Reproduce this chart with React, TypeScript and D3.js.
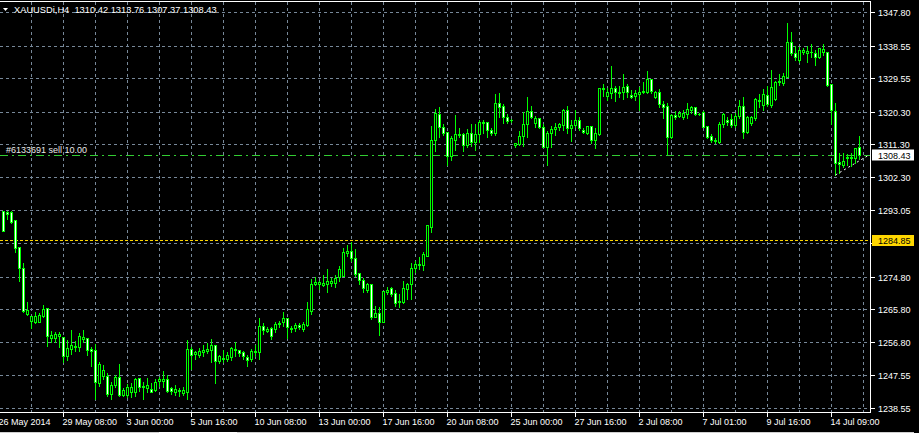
import React from "react";
import * as d3 from "d3";

const symbolText = "XAUUSDi,H4";
const lastQuote = ["1310.42", "1313.76", "1307.37", "1308.43"];
const orderLabel = "#6133691 sell 10.00";
const orderPrice = 1308.43;
const alertPrice = 1284.85;
const bidPrice = 1308.43;

const priceTicks = [1347.8, 1338.55, 1329.55, 1320.3, 1311.3, 1302.3, 1293.05, 1284.05, 1274.8, 1265.8, 1256.8, 1247.55, 1238.55];

const timeLabels = [
  "26 May 2014", "29 May 08:00", "3 Jun 00:00", "5 Jun 16:00", "10 Jun 08:00", "13 Jun 00:00",
  "17 Jun 16:00", "20 Jun 08:00", "25 Jun 00:00", "27 Jun 16:00", "2 Jul 08:00", "7 Jul 01:00",
  "9 Jul 16:00", "14 Jul 09:00",
];

const opens = [
  1292.8, 1292.5, 1292.5, 1290.3, 1283.1, 1277.3, 1264.4, 1262.5, 1262.2, 1262.2,
  1263.9, 1266.1, 1257.8, 1257.8, 1258.4, 1258.1, 1252.9, 1254.8, 1255.3, 1255.3,
  1257.5, 1257.8, 1254.8, 1254.5, 1245.4, 1247.3, 1247.3, 1242.4, 1244.9, 1247.1,
  1242.1, 1242.1, 1243.0, 1243.0, 1246.8, 1244.3, 1244.0, 1243.8, 1243.5, 1246.0,
  1246.0, 1246.5, 1244.0, 1243.0, 1243.5, 1242.7, 1243.0, 1254.8, 1253.4, 1253.1,
  1254.0, 1254.2, 1254.5, 1255.9, 1251.5, 1252.3, 1252.0, 1252.6, 1254.5, 1254.5,
  1254.0, 1252.6, 1252.0, 1254.0, 1254.0, 1261.1, 1259.7, 1260.6, 1260.3, 1261.7,
  1262.2, 1263.3, 1260.6, 1260.6, 1261.4, 1260.3, 1261.4, 1265.2, 1272.7, 1272.7,
  1272.4, 1272.7, 1272.9, 1272.9, 1274.6, 1275.1, 1281.2, 1281.8, 1279.8, 1275.7,
  1274.0, 1271.0, 1272.7, 1263.6, 1264.7, 1262.2, 1270.5, 1271.6, 1270.2, 1267.7,
  1267.7, 1271.3, 1272.7, 1277.1, 1277.9, 1277.9, 1280.6, 1288.6, 1312.6, 1319.7,
  1316.2, 1314.8, 1308.2, 1312.6, 1314.2, 1314.2, 1311.2, 1314.5, 1312.0, 1314.2,
  1317.3, 1317.5, 1315.3, 1314.5, 1322.8, 1321.9, 1318.9, 1318.1, 1311.2, 1311.5,
  1313.7, 1317.0, 1320.6, 1317.3, 1318.6, 1316.2, 1310.6, 1314.5, 1315.6, 1316.2,
  1316.7, 1320.8, 1315.9, 1316.7, 1318.1, 1315.3, 1314.5, 1316.4, 1312.6, 1314.2,
  1326.6, 1324.7, 1325.5, 1326.9, 1325.8, 1325.8, 1327.4, 1325.0, 1324.7, 1325.2,
  1325.8, 1325.8, 1329.4, 1324.4, 1325.8, 1322.5, 1321.9, 1313.4, 1319.5, 1319.2,
  1318.9, 1319.7, 1320.8, 1321.7, 1319.7, 1320.3, 1316.4, 1313.7, 1312.6, 1312.0,
  1317.0, 1318.1, 1318.3, 1316.7, 1319.2, 1321.9, 1314.8, 1317.3, 1318.6, 1323.6,
  1322.2, 1325.0, 1322.2, 1323.9, 1328.5, 1328.3, 1329.9, 1339.5, 1336.5, 1334.6,
  1336.8, 1336.5, 1336.8, 1336.5, 1335.4, 1336.8, 1336.8, 1328.0, 1320.6, 1306.5,
  1305.7, 1307.6, 1307.6, 1307.6, 1310.42,
];

const highs = [
  1293.3, 1293.3, 1293.3, 1290.3, 1283.1, 1278.7, 1268.0, 1264.1, 1265.2, 1265.0,
  1267.2, 1266.1, 1260.0, 1259.7, 1259.7, 1258.1, 1257.5, 1260.3, 1257.3, 1259.5,
  1260.3, 1257.8, 1255.6, 1256.4, 1251.5, 1250.7, 1248.4, 1246.0, 1247.9, 1250.9,
  1244.3, 1245.4, 1245.7, 1247.1, 1247.1, 1246.0, 1247.1, 1245.7, 1246.8, 1247.4,
  1249.0, 1247.9, 1244.6, 1245.1, 1244.3, 1244.6, 1257.5, 1255.6, 1254.5, 1255.3,
  1256.1, 1256.7, 1257.8, 1255.9, 1253.4, 1254.8, 1254.2, 1255.6, 1257.0, 1254.8,
  1254.5, 1253.4, 1255.1, 1256.1, 1263.6, 1262.2, 1261.1, 1261.1, 1262.5, 1262.8,
  1265.2, 1263.6, 1261.4, 1262.2, 1262.2, 1262.5, 1268.0, 1274.3, 1274.9, 1274.0,
  1275.4, 1277.1, 1274.6, 1275.4, 1277.9, 1283.1, 1283.7, 1284.5, 1282.6, 1276.2,
  1274.6, 1273.2, 1272.9, 1266.9, 1266.6, 1271.0, 1272.1, 1272.1, 1271.3, 1270.2,
  1274.0, 1273.2, 1278.7, 1279.3, 1280.4, 1282.0, 1289.4, 1316.7, 1321.4, 1321.9,
  1317.3, 1315.0, 1313.9, 1319.7, 1316.2, 1314.8, 1315.9, 1317.3, 1317.3, 1318.3,
  1318.3, 1317.8, 1316.2, 1325.5, 1325.8, 1322.8, 1320.0, 1318.6, 1312.0, 1315.3,
  1320.6, 1324.7, 1322.2, 1319.5, 1318.9, 1317.3, 1315.3, 1316.7, 1317.5, 1317.5,
  1321.4, 1322.2, 1318.3, 1321.1, 1319.2, 1316.2, 1316.7, 1316.7, 1316.2, 1327.2,
  1328.3, 1327.2, 1333.2, 1327.7, 1327.7, 1331.0, 1328.3, 1326.6, 1326.6, 1327.4,
  1328.8, 1331.8, 1329.6, 1326.3, 1326.9, 1323.6, 1323.0, 1320.0, 1320.8, 1320.8,
  1321.1, 1323.0, 1322.2, 1321.9, 1320.3, 1320.8, 1316.7, 1314.5, 1313.4, 1317.8,
  1320.3, 1319.2, 1320.0, 1320.3, 1323.9, 1324.7, 1319.5, 1319.5, 1324.4, 1325.5,
  1326.9, 1327.7, 1332.1, 1329.1, 1331.0, 1331.3, 1345.0, 1342.6, 1338.7, 1338.4,
  1338.2, 1338.7, 1339.3, 1337.6, 1338.2, 1339.3, 1337.1, 1328.3, 1323.0, 1309.3,
  1309.3, 1309.0, 1309.3, 1310.6, 1313.76,
];

const lows = [
  1287.5, 1290.6, 1289.7, 1281.5, 1273.5, 1265.0, 1264.1, 1260.6, 1261.9, 1262.2,
  1263.6, 1255.6, 1256.7, 1256.7, 1255.3, 1251.2, 1251.7, 1253.4, 1254.2, 1254.2,
  1256.7, 1253.1, 1250.1, 1241.0, 1244.6, 1246.5, 1241.8, 1241.0, 1244.3, 1241.8,
  1241.8, 1241.6, 1241.6, 1241.8, 1243.2, 1241.0, 1243.0, 1243.0, 1243.2, 1244.6,
  1244.3, 1243.0, 1242.4, 1242.1, 1241.8, 1242.1, 1241.0, 1249.3, 1252.0, 1252.6,
  1252.9, 1253.7, 1251.2, 1245.4, 1250.9, 1251.2, 1251.5, 1251.7, 1252.9, 1252.9,
  1252.0, 1250.1, 1251.5, 1252.9, 1252.0, 1258.9, 1259.5, 1257.5, 1259.5, 1260.8,
  1261.1, 1257.8, 1259.5, 1259.7, 1260.3, 1259.7, 1261.1, 1264.4, 1272.4, 1271.3,
  1272.1, 1270.5, 1272.1, 1271.8, 1273.5, 1274.9, 1280.4, 1279.0, 1275.1, 1272.7,
  1270.5, 1270.5, 1263.0, 1263.6, 1258.6, 1262.2, 1269.9, 1269.4, 1266.6, 1266.3,
  1267.4, 1268.5, 1268.5, 1276.2, 1276.8, 1276.5, 1280.4, 1287.0, 1309.5, 1313.4,
  1313.9, 1305.7, 1307.1, 1309.8, 1313.4, 1309.5, 1310.6, 1310.9, 1309.8, 1312.0,
  1314.5, 1313.4, 1313.9, 1313.9, 1318.9, 1317.3, 1317.3, 1317.5, 1310.6, 1311.2,
  1310.9, 1313.4, 1318.6, 1316.2, 1315.9, 1310.6, 1305.7, 1310.6, 1313.9, 1315.3,
  1315.3, 1314.5, 1312.3, 1316.2, 1315.3, 1314.5, 1314.2, 1311.7, 1310.4, 1313.9,
  1324.7, 1323.6, 1324.1, 1323.3, 1324.4, 1323.9, 1324.4, 1324.1, 1323.6, 1320.8,
  1325.5, 1325.5, 1325.5, 1324.1, 1321.7, 1318.6, 1308.5, 1313.1, 1318.3, 1318.9,
  1318.3, 1318.6, 1320.0, 1319.5, 1319.5, 1316.2, 1313.1, 1312.0, 1311.7, 1311.7,
  1316.2, 1316.7, 1316.2, 1316.2, 1318.6, 1313.1, 1314.5, 1316.7, 1318.1, 1321.7,
  1320.8, 1321.9, 1321.7, 1323.6, 1327.7, 1327.7, 1329.9, 1336.0, 1334.6, 1334.0,
  1336.2, 1334.0, 1335.4, 1333.2, 1335.1, 1336.0, 1327.4, 1317.0, 1302.9, 1303.5,
  1305.1, 1305.7, 1305.4, 1306.2, 1307.37,
];

const closes = [
  1287.5, 1292.2, 1290.0, 1282.8, 1277.3, 1265.2, 1265.5, 1263.9, 1263.9, 1264.1,
  1265.8, 1258.4, 1258.6, 1258.9, 1258.9, 1252.9, 1255.1, 1255.9, 1255.6, 1258.4,
  1258.1, 1254.5, 1254.2, 1245.7, 1250.7, 1249.0, 1242.4, 1244.9, 1247.1, 1242.1,
  1243.5, 1244.3, 1244.3, 1246.5, 1244.3, 1244.6, 1244.9, 1243.0, 1245.7, 1246.5,
  1246.5, 1243.2, 1243.2, 1243.8, 1243.2, 1243.5, 1254.8, 1253.1, 1254.0, 1254.2,
  1254.5, 1254.8, 1255.9, 1251.5, 1252.9, 1252.0, 1253.1, 1255.1, 1254.8, 1253.7,
  1252.9, 1251.7, 1254.2, 1254.2, 1261.1, 1260.0, 1260.3, 1258.4, 1261.7, 1261.9,
  1263.3, 1260.8, 1260.3, 1261.4, 1260.8, 1261.7, 1265.8, 1272.7, 1273.2, 1273.2,
  1272.9, 1273.5, 1273.5, 1274.3, 1276.8, 1281.5, 1282.0, 1279.8, 1275.4, 1273.8,
  1271.6, 1272.7, 1263.6, 1264.7, 1262.2, 1270.7, 1271.0, 1269.9, 1267.4, 1268.0,
  1271.6, 1272.7, 1277.3, 1278.4, 1278.4, 1280.9, 1288.9, 1312.6, 1320.0, 1316.2,
  1314.5, 1308.2, 1313.1, 1314.2, 1313.9, 1311.2, 1314.5, 1312.0, 1314.2, 1317.5,
  1317.5, 1315.3, 1314.5, 1322.8, 1321.7, 1318.9, 1317.8, 1318.1, 1311.7, 1313.7,
  1317.0, 1320.6, 1318.9, 1318.6, 1316.2, 1310.6, 1314.5, 1315.6, 1316.2, 1317.0,
  1320.8, 1315.9, 1316.7, 1318.1, 1315.9, 1314.8, 1316.4, 1312.6, 1314.5, 1326.9,
  1326.9, 1325.8, 1326.9, 1325.8, 1325.5, 1327.2, 1325.8, 1324.4, 1325.5, 1325.8,
  1326.1, 1329.4, 1326.1, 1325.8, 1322.5, 1321.7, 1313.4, 1319.5, 1318.9, 1320.0,
  1320.0, 1321.1, 1321.7, 1319.7, 1319.7, 1316.2, 1313.4, 1312.6, 1312.3, 1317.0,
  1319.7, 1317.5, 1316.7, 1319.2, 1321.9, 1314.8, 1318.9, 1318.9, 1323.9, 1323.3,
  1325.2, 1322.5, 1327.2, 1328.5, 1328.8, 1330.2, 1339.5, 1336.5, 1335.4, 1337.3,
  1337.3, 1337.1, 1336.8, 1335.4, 1337.9, 1337.6, 1327.7, 1320.8, 1306.2, 1306.0,
  1306.8, 1307.9, 1307.9, 1310.4, 1308.43,
];

// trend line object (bar index, price)
const trendIdx = [208, 216.6];
const trendPrice = [1302.97, 1308.62];

const FONT = "'Liberation Sans', Arial, sans-serif";
const GRID = "#778899";
const CANDLE = "#00ff00";

export default function App() {
  const W = 919;
  const H = 433;
  const plotRight = 870.5;
  const plotTop = 1.5;
  const plotBottom = 412.5;

  const n = opens.length;
  const x = d3.scaleLinear().domain([0, n - 1]).range([3.5, 3.5 + 4 * (n - 1)]);
  const y = d3.scaleLinear().domain([1238.55, 1347.8]).range([408.5, 12.5]);
  const snap = (v: number) => Math.floor(v) + 0.5;

  const gridIdx = d3.range(7, n + 3, 8).filter((i) => x(i) < plotRight);
  const labelIdx = timeLabels.map((_, k) => -1 + 16 * k);
  const alertY = snap(y(alertPrice));
  // price-axis labels hidden under the coloured alert label are not drawn (as in the terminal)
  const visibleTicks = priceTicks.filter((p) => Math.abs(snap(y(p)) - alertY) > 8);

  const trendLine = d3
    .line<number>()
    .x((_, k) => x(trendIdx[k]))
    .y((p) => y(p));

  return (
    <div style={{ position: "fixed", left: 0, top: 0, width: W, height: H, background: "#000" }}>
      <svg width={W} height={H} style={{ display: "block", fontFamily: FONT }}>
        <defs>
          <clipPath id="plot">
            <rect x={0} y={plotTop} width={plotRight} height={plotBottom - plotTop} />
          </clipPath>
        </defs>
        <rect x={0} y={0} width={W} height={H} fill="#000" />

        {/* grid */}
        <g stroke={GRID} strokeWidth={1} strokeDasharray="3,3" shapeRendering="crispEdges">
          {priceTicks.map((p) => (
            <line key={"h" + p} x1={0} x2={plotRight} y1={snap(y(p))} y2={snap(y(p))} />
          ))}
          {gridIdx.map((i) => (
            <line key={"v" + i} x1={x(i)} x2={x(i)} y1={plotTop} y2={plotBottom} />
          ))}
        </g>

        {/* alert line */}
        <line x1={0} x2={plotRight} y1={alertY} y2={alertY}
          stroke="#ffd700" strokeDasharray="3,2" shapeRendering="crispEdges" />
        {/* order line */}
        <line x1={0} x2={plotRight} y1={snap(y(orderPrice))} y2={snap(y(orderPrice))}
          stroke="#32cd32" strokeDasharray="8,4,2,4" shapeRendering="crispEdges" />

        {/* candles */}
        <g clipPath="url(#plot)" shapeRendering="crispEdges">
          {opens.map((o, i) => {
            const c = closes[i];
            const cx = x(i);
            const yH = snap(y(highs[i]));
            const yL = snap(y(lows[i]));
            const top = snap(y(Math.max(o, c)));
            const bot = snap(y(Math.min(o, c)));
            const bear = c < o;
            return (
              <g key={i}>
                <line x1={cx} x2={cx} y1={yH} y2={yL} stroke={CANDLE} />
                {bot - top >= 1 ? (
                  <rect x={cx - 1} y={top} width={2} height={bot - top}
                    fill={bear ? "#ffffff" : "#000000"} stroke={CANDLE} />
                ) : (
                  <line x1={cx - 1.5} x2={cx + 1.5} y1={top} y2={top} stroke={CANDLE} />
                )}
              </g>
            );
          })}
        </g>

        {/* trend line */}
        <g clipPath="url(#plot)">
          <path d={trendLine(trendPrice) || ""} stroke="#ffffff" strokeWidth={1} strokeDasharray="2,3" fill="none" />
        </g>

        {/* frame */}
        <g stroke="#ffffff" strokeWidth={1} shapeRendering="crispEdges" fill="none">
          <line x1={0} x2={plotRight} y1={plotTop} y2={plotTop} />
          <line x1={plotRight} x2={plotRight} y1={plotTop} y2={plotBottom} />
          <line x1={0} x2={plotRight} y1={plotBottom} y2={plotBottom} />
        </g>

        {/* y axis */}
        <g fontSize={9} fill="#ffffff">
          {priceTicks.map((p) => (
            <line key={"yt" + p} x1={plotRight} x2={plotRight + 4} y1={snap(y(p))} y2={snap(y(p))} stroke="#ffffff" shapeRendering="crispEdges" />
          ))}
          {visibleTicks.map((p) => (
            <text key={"yl" + p} x={878} y={snap(y(p)) + 3.5}>{p.toFixed(2)}</text>
          ))}
        </g>
        {/* price labels */}
        <rect x={872} y={alertY - 5.5} width={42} height={11} fill="#ffd700" />
        <text x={878} y={alertY + 3.5} fontSize={9} fill="#000">{alertPrice.toFixed(2)}</text>
        <rect x={872} y={snap(y(bidPrice)) - 6} width={42} height={11} fill="#ffffff" />
        <text x={878} y={snap(y(bidPrice)) + 3} fontSize={9} fill="#000">{bidPrice.toFixed(2)}</text>

        {/* x axis */}
        <g fontSize={9} fill="#ffffff">
          {labelIdx.map((i, k) => (
            <g key={"xl" + k}>
              <line x1={x(i)} x2={x(i)} y1={plotBottom} y2={plotBottom + 4} stroke="#ffffff" shapeRendering="crispEdges" />
              <text x={x(i) - 1} y={425}>{timeLabels[k]}</text>
            </g>
          ))}
        </g>

        {/* header */}
        <path d="M3,8 L8,8 L5.5,11 Z" fill="#ffffff" />
        <text x={14} y={13} fontSize={9.3} fill="#ffffff" style={{ whiteSpace: "pre" }}>
          {symbolText + "  " + lastQuote.join(" ")}
        </text>

        {/* order label */}
        <text x={6} y={153} fontSize={9} fill="#e8e8e8">{orderLabel}</text>

        {/* window bottom edge */}
        <line x1={0} x2={914} y1={432.5} y2={432.5} stroke="#d0d0d0" shapeRendering="crispEdges" />
        <line x1={159} x2={237} y1={432.5} y2={432.5} stroke="#ffffff" strokeWidth={2} shapeRendering="crispEdges" />
      </svg>
    </div>
  );
}
